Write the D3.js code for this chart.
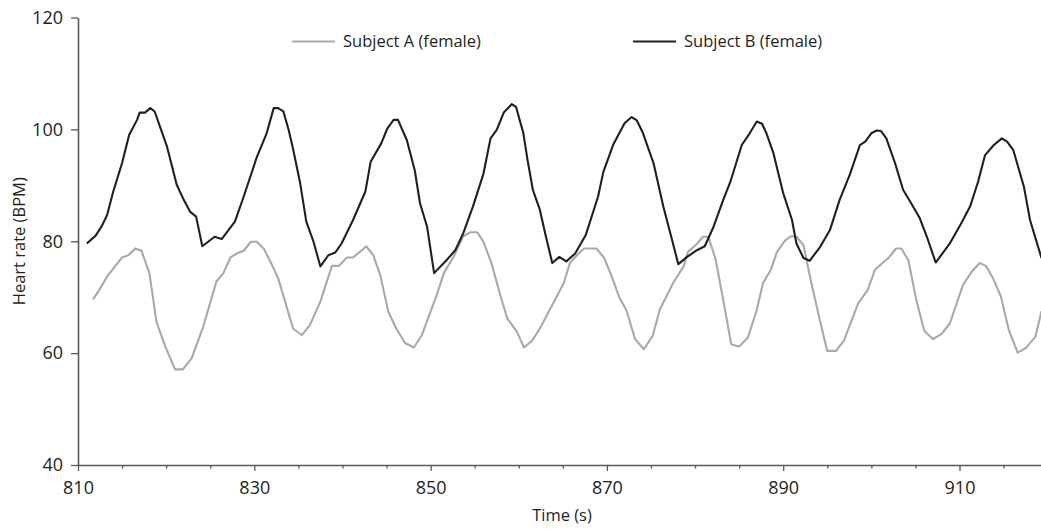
<!DOCTYPE html>
<html>
<head>
<meta charset="utf-8">
<script src="https://cdn.jsdelivr.net/npm/d3@7"></script>
<style>
  html, body { margin: 0; padding: 0; background: #fff; }
  svg { display: block; }
  text { font-family: "Open Sans", "Noto Sans", sans-serif; fill: #231f20; }
</style>
</head>
<body>
<svg id="chart" width="1041" height="529"></svg>
<script>
// Heart rate recordings, time in seconds and beats per minute
const timeA = [811.7, 812.5, 813.3, 814.2, 815.0, 815.7, 816.5, 817.2, 818.1, 818.9, 819.9, 821.0, 821.9, 822.9, 824.2, 825.7, 826.5, 827.3, 828.0, 828.8, 829.6, 830.3, 831.1, 832.0, 832.7, 834.4, 835.4, 836.3, 837.5, 838.8, 839.6, 840.5, 841.2, 842.2, 842.7, 843.5, 844.3, 845.2, 846.1, 847.1, 848.1, 849.0, 850.7, 851.5, 852.6, 853.7, 854.5, 855.3, 856.0, 856.9, 857.9, 858.7, 859.8, 860.6, 861.5, 862.4, 863.5, 865.1, 865.8, 866.6, 867.4, 868.8, 869.7, 870.5, 871.4, 872.2, 873.2, 874.2, 875.2, 876.0, 877.5, 878.7, 879.2, 880.2, 880.9, 881.5, 882.3, 883.2, 884.1, 885.0, 886.0, 887.0, 887.7, 888.6, 889.3, 890.2, 890.9, 891.5, 892.3, 893.2, 894.2, 895.0, 896.0, 896.9, 898.5, 899.6, 900.4, 901.4, 902.0, 902.8, 903.4, 904.2, 905.1, 906.0, 907.0, 908.0, 908.9, 910.4, 911.4, 912.3, 913.0, 913.8, 914.7, 915.6, 916.6, 917.5, 918.6, 919.3];
const rateA = [69.6, 71.5, 73.7, 75.5, 77.1, 77.5, 78.7, 78.3, 74.3, 65.6, 61.2, 57.1, 57.1, 59.1, 64.7, 72.8, 74.3, 77.1, 77.8, 78.3, 79.9, 79.9, 78.6, 75.8, 73.4, 64.4, 63.2, 65.0, 69.2, 75.6, 75.6, 77.1, 77.1, 78.4, 79.1, 77.5, 73.9, 67.4, 64.4, 61.8, 61.0, 63.2, 70.4, 74.3, 77.2, 80.9, 81.6, 81.6, 79.9, 76.1, 70.4, 66.2, 63.8, 61.0, 62.2, 64.4, 67.7, 72.5, 76.1, 77.5, 78.7, 78.7, 77.0, 73.9, 70.0, 67.7, 62.5, 60.7, 63.1, 67.8, 72.5, 75.5, 78.1, 79.5, 80.8, 80.8, 77.0, 69.5, 61.6, 61.2, 62.8, 67.7, 72.5, 74.9, 78.1, 80.1, 80.9, 80.8, 79.3, 72.5, 65.6, 60.4, 60.4, 62.3, 68.9, 71.3, 74.9, 76.3, 77.1, 78.7, 78.7, 76.6, 69.5, 64.0, 62.5, 63.5, 65.3, 72.2, 74.6, 76.1, 75.6, 73.4, 70.1, 64.1, 60.1, 60.9, 62.9, 67.5];

const timeB = [811.0, 812.0, 812.7, 813.3, 814.0, 815.0, 815.8, 816.7, 817.0, 817.6, 818.2, 818.7, 819.3, 820.1, 821.2, 822.0, 822.7, 823.4, 824.1, 825.5, 826.3, 827.8, 828.8, 830.3, 831.4, 832.2, 832.7, 833.3, 833.9, 834.4, 835.2, 835.9, 836.7, 837.5, 838.4, 839.2, 839.9, 841.2, 842.6, 843.2, 844.4, 845.1, 845.8, 846.3, 847.3, 848.2, 848.8, 849.6, 850.4, 851.8, 852.8, 853.7, 854.8, 856.0, 856.8, 857.5, 858.3, 859.2, 859.7, 860.1, 860.5, 861.0, 861.6, 862.4, 863.0, 863.8, 864.6, 865.4, 866.4, 867.6, 869.0, 869.6, 870.7, 872.0, 872.8, 873.4, 874.1, 875.3, 876.4, 877.3, 878.1, 879.1, 880.2, 881.1, 882.1, 883.2, 884.0, 885.3, 886.2, 887.0, 887.6, 888.1, 888.9, 890.0, 891.0, 891.5, 892.3, 893.0, 894.2, 895.3, 896.4, 897.6, 898.7, 899.3, 900.0, 900.6, 901.1, 901.7, 902.7, 903.6, 904.4, 905.5, 906.3, 907.3, 908.2, 908.9, 910.2, 911.2, 912.1, 912.9, 913.9, 914.8, 915.4, 916.1, 917.3, 918.0, 919.3];
const rateB = [79.6, 81.0, 82.7, 84.7, 88.9, 94.0, 99.0, 101.7, 103.0, 103.0, 103.8, 103.2, 100.5, 96.9, 90.1, 87.4, 85.3, 84.4, 79.1, 80.8, 80.4, 83.5, 88.0, 95.1, 99.3, 103.8, 103.8, 103.2, 99.9, 96.5, 90.4, 83.5, 80.0, 75.5, 77.5, 78.0, 79.6, 83.8, 88.9, 94.2, 97.5, 100.2, 101.7, 101.7, 98.1, 92.7, 86.8, 82.6, 74.3, 76.6, 78.4, 81.4, 86.2, 92.1, 98.4, 99.9, 103.0, 104.5, 104.0, 101.7, 99.5, 94.5, 89.2, 85.6, 81.4, 76.1, 77.2, 76.4, 77.8, 81.1, 88.0, 92.4, 97.2, 101.1, 102.2, 101.6, 99.3, 93.9, 86.2, 80.8, 75.9, 77.2, 78.4, 79.1, 82.6, 87.4, 90.6, 97.2, 99.3, 101.4, 101.0, 99.3, 95.7, 88.6, 83.8, 79.6, 77.0, 76.5, 79.0, 82.0, 87.4, 92.1, 97.2, 97.8, 99.3, 99.8, 99.7, 98.4, 93.9, 89.2, 87.1, 84.1, 80.8, 76.2, 78.1, 79.6, 83.2, 86.2, 90.6, 95.4, 97.2, 98.4, 97.8, 96.3, 89.8, 83.8, 77.0];

const seriesNames = ["Subject A (female)", "Subject B (female)"];
const seriesColors = ["#a7a9ac", "#231f20"];
const xTicks = [810, 830, 850, 870, 890, 910];
const xMinorTicks = [815, 820, 825, 835, 840, 845, 855, 860, 865, 875, 880, 885, 895, 900, 905, 915];
const yTicks = [40, 60, 80, 100, 120];

const svg = d3.select("#chart");
const plotLeft = 78, plotTop = 17.5, plotBottom = 465;
const x = d3.scaleLinear().domain([810, 920]).range([plotLeft, plotLeft + 110 * 8.815]);
const y = d3.scaleLinear().domain([40, 120]).range([plotBottom, plotTop]);

const axisColor = "#58595b";

// y axis
const gy = svg.append("g").attr("transform", `translate(${plotLeft},0)`)
  .call(d3.axisLeft(y).tickValues(yTicks).tickSize(7).tickPadding(8).tickSizeOuter(0));
// x axis, major and minor ticks
const gx = svg.append("g").attr("transform", `translate(0,${plotBottom})`)
  .call(d3.axisBottom(x).tickValues(xTicks).tickSize(6).tickPadding(10).tickSizeOuter(0).tickFormat(d3.format("d")));
const gxm = svg.append("g").attr("transform", `translate(0,${plotBottom})`)
  .call(d3.axisBottom(x).tickValues(xMinorTicks).tickSize(3.5).tickFormat(""));
gxm.select(".domain").remove();

[gy, gx, gxm].forEach(g => {
  g.selectAll(".domain").attr("stroke", axisColor).attr("stroke-width", 1.6);
  g.selectAll(".tick line").attr("stroke", axisColor).attr("stroke-width", 1.3);
  g.selectAll(".tick text").attr("font-size", 18).attr("fill", "#231f20")
    .style("font-family", '"Open Sans", "Noto Sans", sans-serif');
});

// lines
const line = d3.line().x(d => x(d[0])).y(d => y(d[1]));
const dataA = d3.zip(timeA, rateA);
const dataB = d3.zip(timeB, rateB);
[dataA, dataB].forEach((data, i) => {
  svg.append("path").datum(data)
    .attr("fill", "none")
    .attr("stroke", seriesColors[i])
    .attr("stroke-width", 2.1)
    .attr("stroke-linejoin", "round")
    .attr("d", line);
});

// legend
const legendX = [292, 633];
seriesNames.forEach((name, i) => {
  const g = svg.append("g").attr("transform", `translate(${legendX[i]},41.5)`);
  g.append("line").attr("x1", 0).attr("x2", 43).attr("y1", 0).attr("y2", 0)
    .attr("stroke", seriesColors[i]).attr("stroke-width", 2.1);
  g.append("text").attr("x", 51).attr("y", 0).attr("dy", "0.35em")
    .attr("font-size", 16.5).text(name);
});

// axis titles
svg.append("text").attr("x", 562).attr("y", 521)
  .attr("text-anchor", "middle").attr("font-size", 16.5).text("Time (s)");
svg.append("text").attr("transform", `translate(25,${y(80)}) rotate(-90)`)
  .attr("text-anchor", "middle").attr("font-size", 16.5).text("Heart rate (BPM)");
</script>
</body>
</html>
